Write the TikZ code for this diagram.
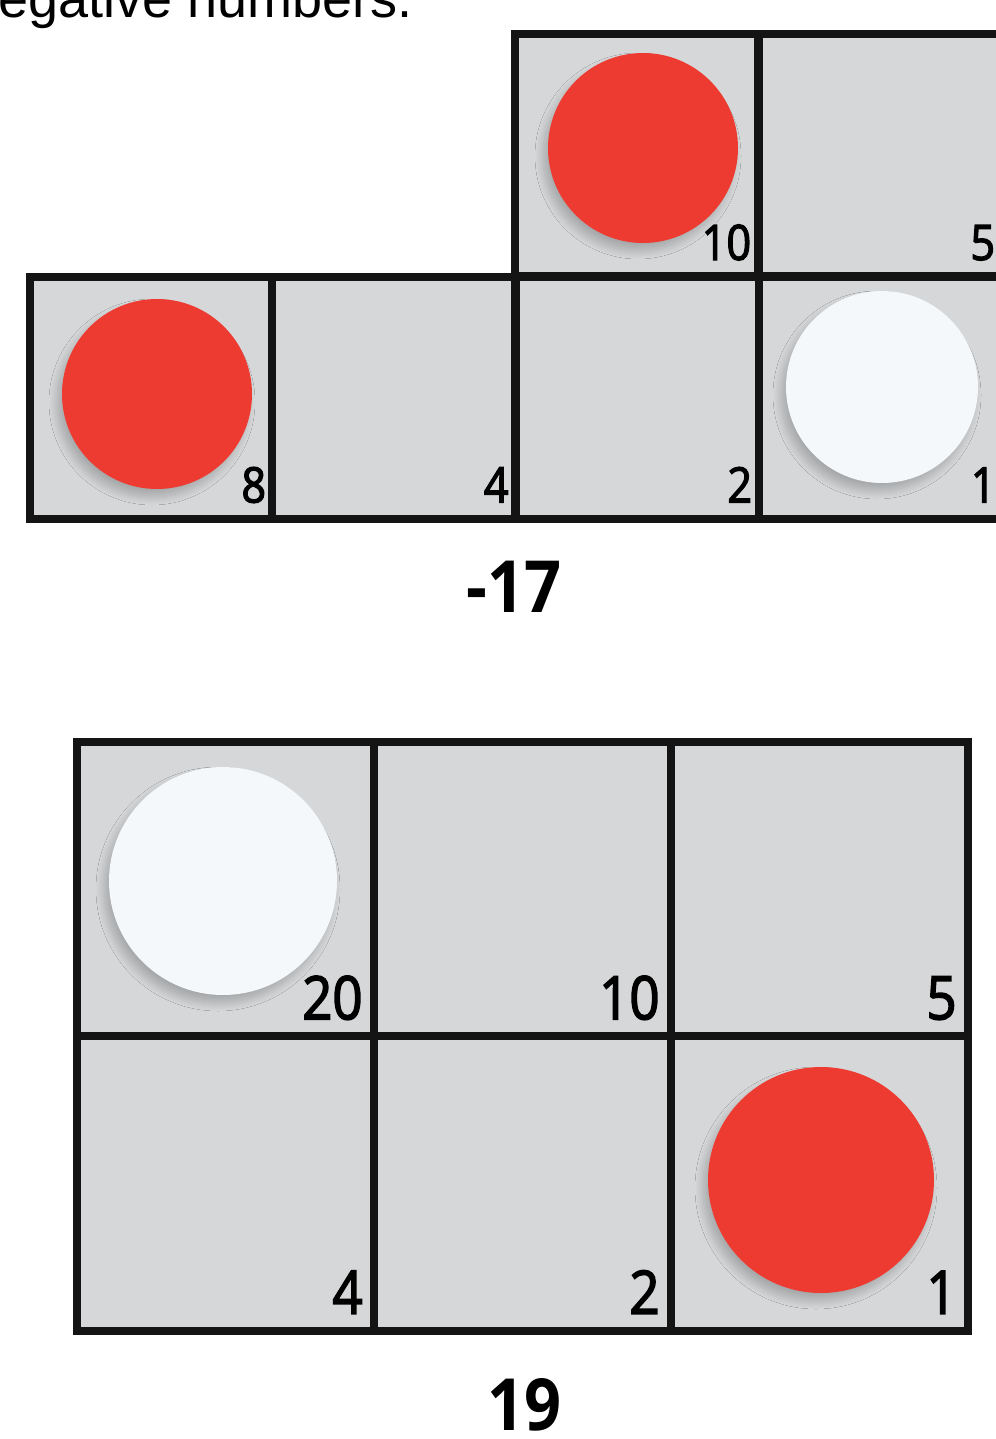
\documentclass[tikz,border=0pt]{standalone}
\usepackage{fontspec}
\setmainfont{Open Sans}
\newfontfamily\numfont{Open Sans}[FakeStretch=0.88,FakeBold=2.5]
\newfontfamily\sumfont{Open Sans}[FakeStretch=0.9]
\newfontfamily\headfont{Liberation Sans}
\usetikzlibrary{shadows.blur}
\definecolor{cellgrey}{HTML}{D5D7D9}
\definecolor{redchip}{HTML}{EE3B32}
\definecolor{whitechip}{HTML}{F4F8FA}
\tikzset{
  cell/.style={draw=black!92,line width=4pt,fill=cellgrey,inner sep=0pt},
  topcell/.style={cell,minimum width=121.5pt,minimum height=121pt},
  botcell/.style={cell,minimum width=148.5pt,minimum height=147.25pt},
  chip/.style={circle,fill=#1,inner sep=0pt,
    blur shadow={shadow xshift=-2.5pt,shadow yshift=-4pt,
      shadow blur radius=4pt,shadow blur steps=12,shadow opacity=22}},
  cellnum/.style={font=\numfont\fontsize{#1}{#1}\selectfont,
    inner sep=0pt,anchor=base east},
  total/.style={font=\sumfont\bfseries\fontsize{36}{40}\selectfont,
    inner sep=0pt,anchor=base}
}

\begin{document}
\begin{tikzpicture}[x=0.5pt,y=-0.5pt]
\useasboundingbox (0,0) rectangle (995,1439);
\node[anchor=base west,inner sep=0pt,
  font=\headfont\fontsize{27}{30}\selectfont] (head) at (-2,18) {egative numbers.};
% upper board, runs off the right edge
\foreach \name/\cx/\cy in {t10/636/155,t5/880/155,t8/151/397.5,
    t4/393.5/397.5,t2/637/397.5,t1/880.5/397.5}
  \node[topcell] (\name) at (\cx,\cy) {};
% lower board
\foreach \name/\cx/\cy in {b20/225.5/889,b10/522.5/889,b5/819.5/889,
    b4/225.5/1183.5,b2/522.5/1183.5,b1/819.5/1183.5}
  \node[botcell] (\name) at (\cx,\cy) {};
% counters
\node[chip=redchip,minimum size=95pt] (ten) at (643,148) {};
\node[chip=redchip,minimum size=95pt] (eight) at (157,394) {};
\node[chip=whitechip,minimum size=96pt] (one) at (882,387) {};
\node[chip=whitechip,minimum size=114pt] (twenty) at (223,881) {};
\node[chip=redchip,minimum size=113pt] (unit) at (821,1180) {};
% place values
\foreach \name/\num in {t10/10,t5/5,t8/8,t4/4,t2/2,t1/1}
  \node[cellnum=24.5] (\name-num) at ([xshift=-5pt,yshift=10pt]\name.south east) {\num};
\foreach \name/\num in {b20/20,b10/10,b5/5,b4/4,b2/2,b1/1}
  \node[cellnum=30] (\name-num) at ([xshift=-7.5pt,yshift=10.5pt]\name.south east) {\num};
\node[total] (topsum) at (514,612) {-17};
\node[total] (botsum) at (524,1430) {19};
\end{tikzpicture}
\end{document}
